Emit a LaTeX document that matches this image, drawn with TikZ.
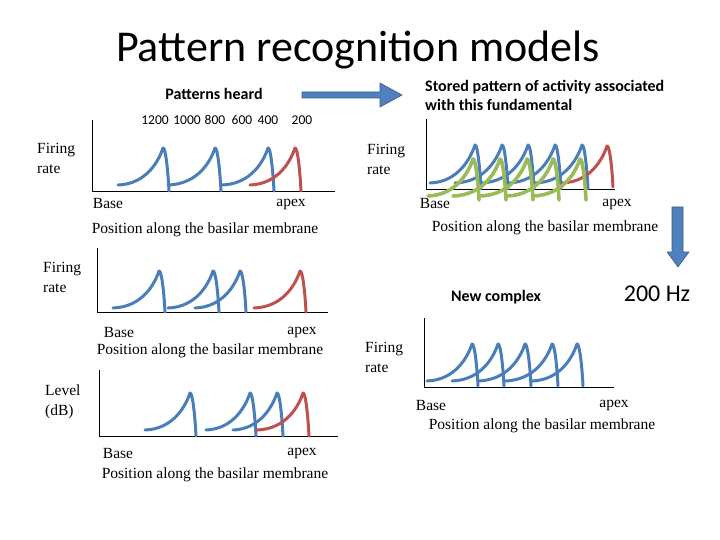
\documentclass[tikz,border=0pt]{standalone}
\usepackage{fontspec}
\setmainfont{Liberation Serif}
\newfontfamily\calibri{Carlito}
\usepackage{tikz}

\definecolor{curveblue}{HTML}{4A7EBB}
\definecolor{curvered}{HTML}{C0504D}
\definecolor{curvegreen}{HTML}{9BBB59}
\definecolor{arrowblue}{HTML}{4F81BD}
\definecolor{arrowedge}{HTML}{385D8A}

\tikzset{
  blueline/.style={draw=curveblue,line width=3pt,line cap=round,line join=round},
  redline/.style={draw=curvered,line width=3pt,line cap=round,line join=round},
  greenline/.style={draw=curvegreen,line width=3.6pt,line cap=round,line join=round},
  axisline/.style={draw=black,line width=0.9pt},
  lbl/.style={inner sep=0pt,font=\fontsize{15.5}{20}\selectfont},
  axlbl/.style={lbl,align=left,anchor=west},
  head/.style={inner sep=0pt,font=\calibri\bfseries\fontsize{16}{19}\selectfont},
  freq/.style={inner sep=0pt,font=\calibri\fontsize{13.5}{16}\selectfont},
  blockarrow/.style={fill=arrowblue,draw=arrowedge,line width=0.6pt,line join=round}
}

\newcommand{\tcurve}[6]{\draw[#1] (#2,#4) .. controls ({#3-16},{#4-1}) and ({#3-4},{#5+12}) .. (#3,#5) .. controls ({#3+2.5},{#5-1}) and ({#3+5},{#6-20}) .. ({#3+6},#6);}

\begin{document}
\begin{tikzpicture}[x=1pt,y=-1pt]
	\useasboundingbox (0,0) rectangle (720,540);

	\node[inner sep=0pt,font=\calibri\fontsize{44}{48}\selectfont] (title) at (358,50) {Pattern recognition models};
	\node[head] (heard) at (214,94) {Patterns heard};
	\node[head,align=left,anchor=west] (stored) at (425,95) {Stored pattern of activity associated\\with this fundamental};
	\node[head] (newcx) at (496,297) {New complex};
	\node[inner sep=0pt,font=\calibri\fontsize{24}{28}\selectfont] (hz) at (657,294) {200 Hz};

	\draw[blockarrow] (302,92) -- (380,92) -- (380,83) -- (402,95) -- (380,107) -- (380,98) -- (302,98) -- cycle;
	\draw[blockarrow] (672,207) -- (683,207) -- (683,252) -- (689,252) -- (678,267) -- (667,252) -- (672,252) -- cycle;

	\node[freq] (f1200) at (155,120) {1200};
	\node[freq] (f1000) at (187,120) {1000};
	\node[freq] (f800) at (215,120) {800};
	\node[freq] (f600) at (242,120) {600};
	\node[freq] (f400) at (268,120) {400};
	\node[freq] (f200) at (302,120) {200};

	\draw[axisline] (92,120) -- (92,191) -- (335,191);
	\node[axlbl] (fr1) at (37,158) {Firing\\rate};
	\node[lbl] (base1) at (108,204) {Base};
	\node[lbl] (apex1) at (291,204) {apex};
	\node[lbl] (pos1) at (205,230) {Position along the basilar membrane};
	\tcurve{blueline}{118}{163}{185}{148}{191}
	\tcurve{blueline}{168}{215}{185}{148}{191}
	\tcurve{blueline}{222}{268}{185}{148}{191}
	\tcurve{redline}{250}{295}{185}{148}{191}

	\draw[axisline] (426,119) -- (426,189) -- (615,189);
	\node[axlbl] (fr2) at (367,159) {Firing\\rate};
	\node[lbl] (base2) at (435,204) {Base};
	\node[lbl] (apex2) at (617,204) {apex};
	\node[lbl] (pos2) at (545,228) {Position along the basilar membrane};
	\tcurve{blueline}{430}{475}{183}{145}{189}
	\tcurve{blueline}{455}{502}{183}{145}{189}
	\tcurve{blueline}{481}{528}{183}{145}{189}
	\tcurve{blueline}{508}{555}{183}{145}{189}
	\tcurve{blueline}{535}{582}{183}{145}{189}
	\tcurve{redline}{562}{607}{183}{146}{187}
	\tcurve{greenline}{428}{473}{196}{159}{200}
	\tcurve{greenline}{453}{500}{196}{159}{200}
	\tcurve{greenline}{480}{527}{196}{159}{200}
	\tcurve{greenline}{507}{553}{196}{159}{200}
	\tcurve{greenline}{533}{580}{196}{159}{200}

	\draw[axisline] (97,248) -- (97,312) -- (328,312);
	\node[axlbl] (fr3) at (43,277) {Firing\\rate};
	\node[lbl] (base3) at (119,332) {Base};
	\node[lbl] (apex3) at (302,332) {apex};
	\node[lbl] (pos3) at (210,351) {Position along the basilar membrane};
	\tcurve{blueline}{113}{159}{308}{271}{312}
	\tcurve{blueline}{168}{213}{308}{271}{312}
	\tcurve{blueline}{195}{240}{308}{271}{312}
	\tcurve{redline}{254}{300}{308}{271}{312}

	\draw[axisline] (99,370) -- (99,436) -- (338,436);
	\node[axlbl] (lvl) at (45,402) {Level\\(dB)};
	\node[lbl] (base4) at (118,453) {Base};
	\node[lbl] (apex4) at (302,453) {apex};
	\node[lbl] (pos4) at (215,475) {Position along the basilar membrane};
	\tcurve{blueline}{145}{190}{430}{393}{436}
	\tcurve{blueline}{206}{250}{430}{393}{436}
	\tcurve{blueline}{233}{277}{430}{393}{436}
	\tcurve{redline}{257}{303}{430}{393}{436}

	\draw[axisline] (424,318) -- (424,387) -- (614,387);
	\node[axlbl] (fr5) at (365,357) {Firing\\rate};
	\node[lbl] (base5) at (431,405) {Base};
	\node[lbl] (apex5) at (614,405) {apex};
	\node[lbl] (pos5) at (542,426) {Position along the basilar membrane};
	\tcurve{blueline}{427}{472}{381}{344}{386}
	\tcurve{blueline}{452}{498}{381}{344}{386}
	\tcurve{blueline}{478}{525}{381}{344}{386}
	\tcurve{blueline}{505}{552}{381}{344}{386}
	\tcurve{blueline}{532}{577}{381}{344}{386}
\end{tikzpicture}
\end{document}
